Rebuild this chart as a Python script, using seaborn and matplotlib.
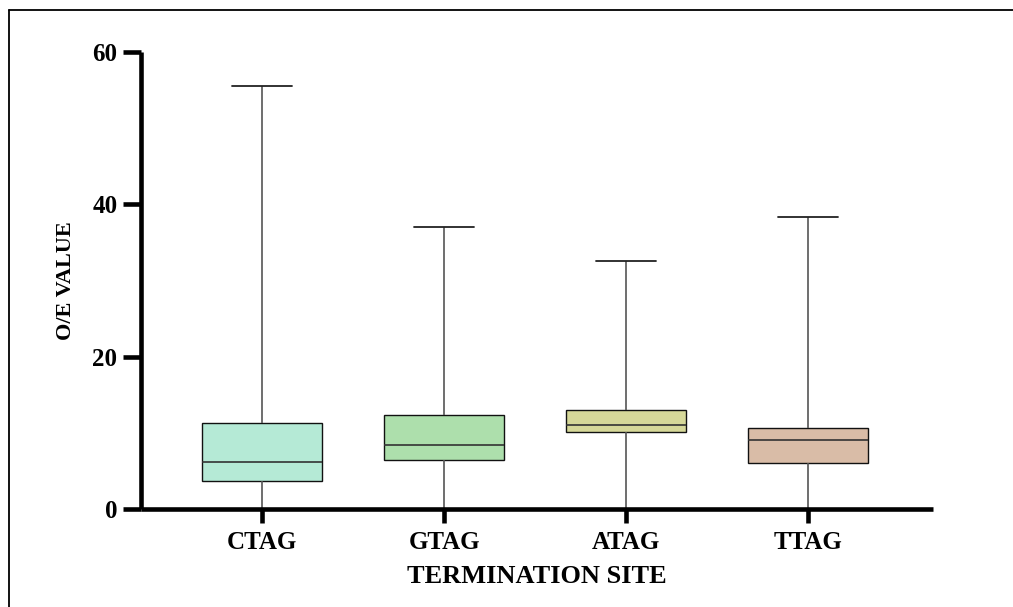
import matplotlib
matplotlib.use("Agg")
import matplotlib.pyplot as plt
from matplotlib.lines import Line2D
import seaborn as sns
import pandas as pd

# Five-number summaries: min, Q1, median, Q3, max
categories = ["CTAG", "GTAG", "ATAG", "TTAG"]
ctag = [0.0, 3.7, 6.2, 11.25, 55.5]
gtag = [0.0, 6.5, 8.4, 12.3, 37.0]
atag = [0.0, 10.1, 11.0, 13.0, 32.5]
ttag = [0.0, 6.0, 9.1, 10.7, 38.3]
colors = ["#B5EAD6", "#ADDFAC", "#D6D899", "#D9BCA7"]
yticks = [0, 20, 40, 60]

rows = []
for cat, vals in zip(categories, [ctag, gtag, atag, ttag]):
    for v in vals:
        rows.append({"site": cat, "value": v})
df = pd.DataFrame(rows)

sns.set_style("white")
plt.rcParams["font.family"] = ["Liberation Serif", "DejaVu Serif"]
plt.rcParams["font.weight"] = "bold"
plt.rcParams["text.color"] = "black"
plt.rcParams["axes.labelcolor"] = "black"
plt.rcParams["xtick.color"] = "black"
plt.rcParams["ytick.color"] = "black"

fig = plt.figure(figsize=(10.13, 6.07), dpi=100)
ax = fig.add_axes([0.1392, 0.1614, 0.7818, 0.7529])

sns.boxplot(data=df, x="site", y="value", hue="site", order=categories,
            hue_order=categories, palette=colors, saturation=1,
            width=0.663, whis=(0, 100), dodge=False, legend=False,
            linewidth=1.0, ax=ax,
            boxprops=dict(edgecolor="#111111", linewidth=1.0),
            whiskerprops=dict(color="#555555", linewidth=1.2),
            capprops=dict(color="#222222", linewidth=1.3),
            medianprops=dict(color="#333333", linewidth=1.2))

ax.set_xlim(-0.665, 3.687)
ax.set_ylim(0, 60)
ax.set_yticks(yticks)
ax.set_yticklabels([str(t) for t in yticks])

for s in ["top", "right"]:
    ax.spines[s].set_visible(False)
for s in ["left", "bottom"]:
    ax.spines[s].set_linewidth(3.3)
    ax.spines[s].set_color("black")
    ax.spines[s].set_capstyle("butt")

ax.tick_params(axis="both", direction="out", width=3.3,
               color="black", labelcolor="black", bottom=True, left=True)
ax.tick_params(axis="y", length=13, pad=4, labelsize=18)
ax.tick_params(axis="x", length=10, pad=6, labelsize=18)
for lab in ax.get_xticklabels() + ax.get_yticklabels():
    lab.set_fontweight("bold")

ax.set_xlabel("TERMINATION SITE", fontsize=19, fontweight="bold",
              labelpad=8, color="black")
ax.set_ylabel("O/E VALUE", fontsize=16, fontweight="bold",
              labelpad=12, color="black")
ax.grid(False)

# outer frame lines (top and left)
fig.add_artist(Line2D([8.5 / 1013, 1.0], [1 - 9.5 / 607, 1 - 9.5 / 607],
                      transform=fig.transFigure, color="black", lw=1.3))
fig.add_artist(Line2D([8.5 / 1013, 8.5 / 1013], [0.0, 1 - 9.5 / 607],
                      transform=fig.transFigure, color="black", lw=1.3))

fig.savefig("out.png", dpi=100)
